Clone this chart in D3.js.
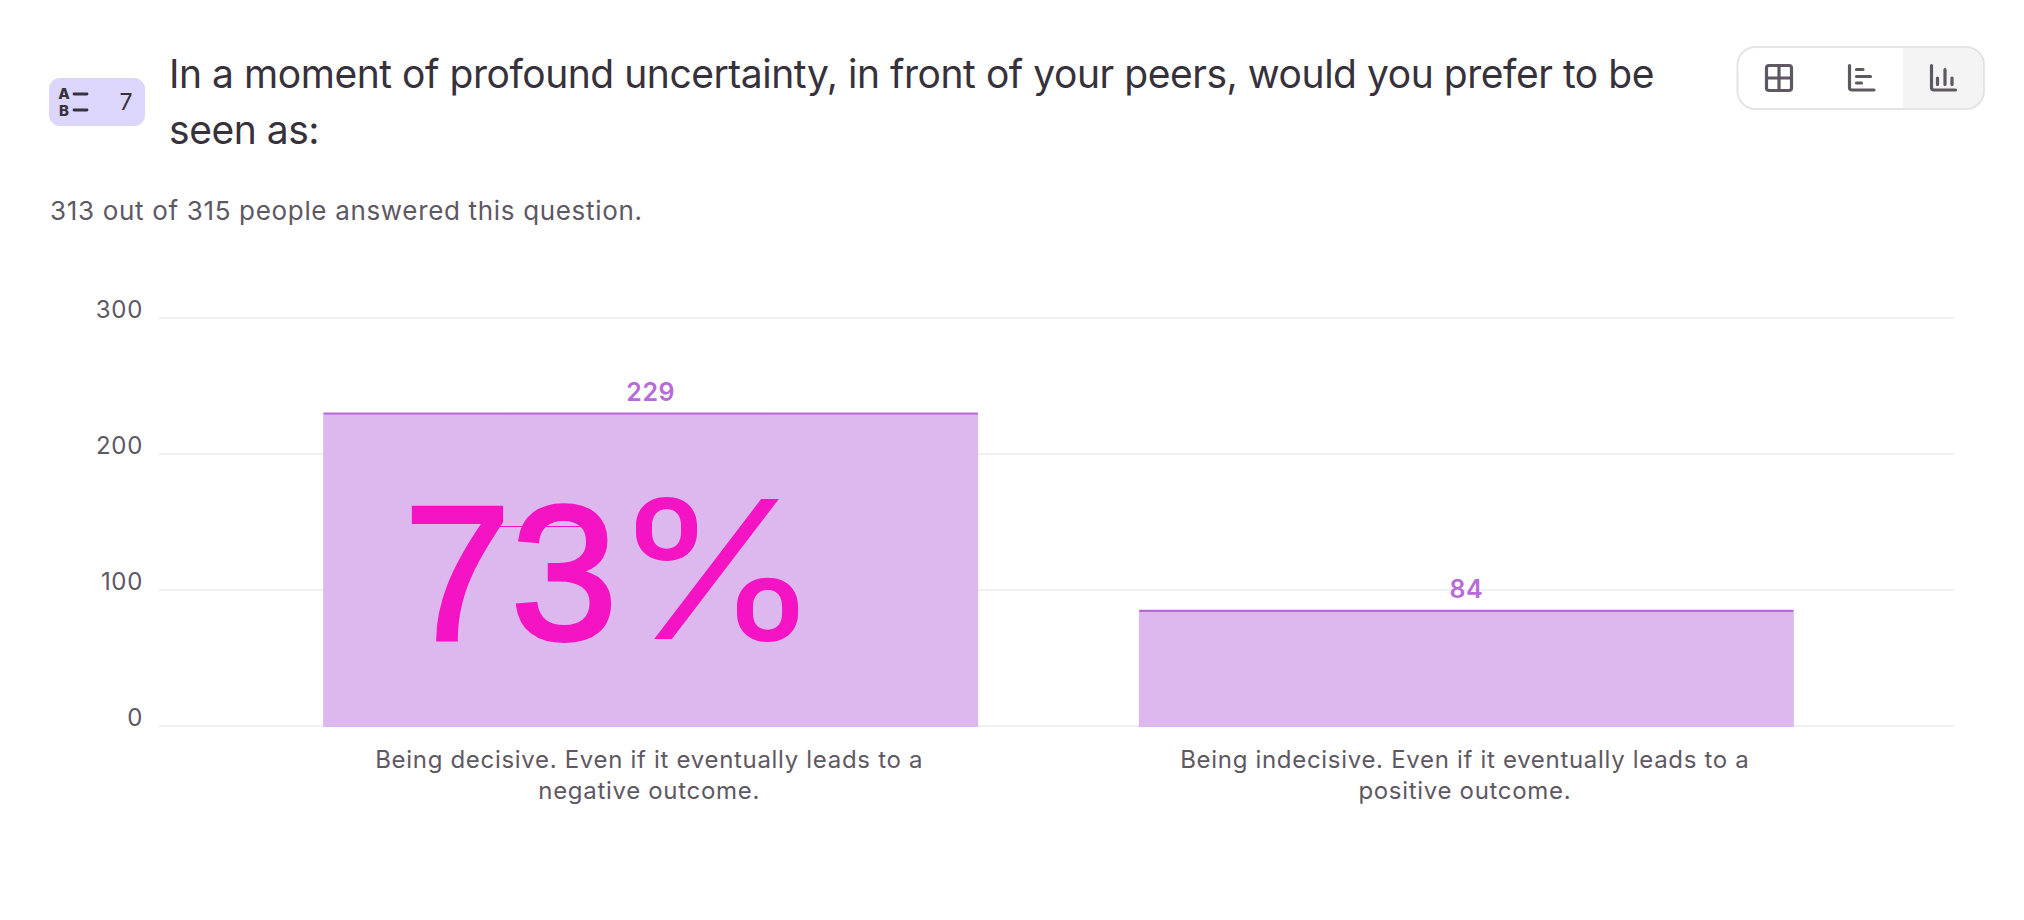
<!DOCTYPE html>
<html>
<head>
<meta charset="utf-8">
<script src="https://cdn.jsdelivr.net/npm/d3@7"></script>
<style>
    html, body { margin: 0; padding: 0; background: #fff; }
    svg { display: block; }
    text { font-family: Inter, "Noto Sans", sans-serif; }
    .tick line { stroke: #f0f0f0; stroke-width: 2; }
    .axis text { font-size: 24px; fill: #5e5863; letter-spacing: 0.69px; }
</style>
</head>
<body>
<script>
(function(){

    //chart data
    var categories = ["decisive", "indecisive"];
    var answers = [229, 84];
    var yTicks = [0, 100, 200, 300];
    var categoryLines = [
        ["Being decisive. Even if it eventually leads to a", "negative outcome."],
        ["Being indecisive. Even if it eventually leads to a", "positive outcome."]
    ];

    //page text
    var titleLines = [
        "In a moment of profound uncertainty, in front of your peers, would you prefer to be",
        "seen as:"
    ];
    var subtitle = "313 out of 315 people answered this question.";
    var questionNumber = "7";

    //frame dimensions
    var width = 2024,
        height = 920;

    var map = d3.select("body")
        .append("svg")
        .attr("width", width)
        .attr("height", height);

    var x = d3.scaleBand()
        .domain(categories)
        .range([160, 1957])
        .paddingInner(0.197)
        .paddingOuter(0.2);

    var y = d3.scaleLinear()
        .domain([0, 300])
        .range([726, 318]);

    setHeader();
    setToggle();
    setAxes();
    setBars();
    setShare();

    function setHeader(){
        //question badge
        map.append("rect")
            .attr("x", 49).attr("y", 78)
            .attr("width", 96).attr("height", 48)
            .attr("rx", 11)
            .attr("fill", "#ddd6fb");

        [["A", 99, 94], ["B", 116, 110]].forEach(function(d){
            map.append("text")
                .attr("x", 64).attr("y", d[1])
                .attr("text-anchor", "middle")
                .attr("font-size", 15)
                .attr("font-weight", 800)
                .attr("fill", "#37313c")
                .text(d[0]);
            map.append("line")
                .attr("x1", 74).attr("x2", 87)
                .attr("y1", d[2]).attr("y2", d[2])
                .attr("stroke", "#37313c")
                .attr("stroke-width", 2.8)
                .attr("stroke-linecap", "round");
        });

        map.append("text")
            .attr("x", 126).attr("y", 110)
            .attr("text-anchor", "middle")
            .attr("font-size", 23)
            .attr("fill", "#37313c")
            .text(questionNumber);

        //question title
        map.selectAll(".title")
            .data(titleLines)
            .enter()
            .append("text")
            .attr("class", "title")
            .attr("x", 169)
            .attr("y", function(d, i){ return 88 + i * 56; })
            .attr("font-size", 39)
            .attr("letter-spacing", -0.46)
            .attr("fill", "#37313c")
            .text(function(d){ return d; });

        map.append("text")
            .attr("x", 50).attr("y", 220)
            .attr("font-size", 26)
            .attr("letter-spacing", 0.67)
            .attr("fill", "#5e5863")
            .text(subtitle);
    };

    function setToggle(){
        var toggle = map.append("g");

        map.append("clipPath")
            .attr("id", "toggleClip")
            .append("rect")
            .attr("x", 1737).attr("y", 47)
            .attr("width", 247).attr("height", 62)
            .attr("rx", 18);

        toggle.append("rect")
            .attr("x", 1903).attr("y", 46)
            .attr("width", 82).attr("height", 64)
            .attr("clip-path", "url(#toggleClip)")
            .attr("fill", "#f4f4f4");

        toggle.append("rect")
            .attr("x", 1737.5).attr("y", 47)
            .attr("width", 246.5).attr("height", 62)
            .attr("rx", 18)
            .attr("fill", "none")
            .attr("stroke", "#e4e4e4")
            .attr("stroke-width", 2);

        var icons = toggle.append("g")
            .attr("fill", "none")
            .attr("stroke", "#5e5863")
            .attr("stroke-width", 3.2)
            .attr("stroke-linecap", "round")
            .attr("stroke-linejoin", "round");

        //table icon
        icons.append("rect")
            .attr("x", 1766.5).attr("y", 65.5)
            .attr("width", 25).attr("height", 25)
            .attr("rx", 2.5);
        icons.append("path").attr("d", "M1779 65.5V90.5M1766.5 78H1791.5");

        //horizontal bars icon
        icons.append("path").attr("d", "M1849.5 65.5V87.5Q1849.5 90 1852 90H1874");
        icons.append("path").attr("d", "M1856.5 69.5H1863M1856.5 76.5H1870.5M1856.5 83H1861.5");

        //vertical bars icon
        icons.append("path").attr("d", "M1931.5 65.5V87.5Q1931.5 90 1934 90H1955.5");
        icons.append("path").attr("d", "M1937.5 78V84.5M1945 69.5V84.5M1952 78V84.5");
    };

    function setAxes(){
        var yAxis = d3.axisLeft(y)
            .tickValues(yTicks)
            .tickSize(-1795)
            .tickPadding(16)
            .offset(0);

        map.append("g")
            .attr("class", "axis")
            .attr("transform", "translate(159,0)")
            .call(yAxis)
            .call(function(g){ g.select(".domain").remove(); })
            .selectAll("text")
            .attr("dy", 0);

        var xAxis = d3.axisBottom(x)
            .tickSize(0)
            .tickPadding(0);

        var labels = map.append("g")
            .attr("class", "axis")
            .attr("transform", "translate(0,726)")
            .call(xAxis)
            .call(function(g){ g.select(".domain").remove(); })
            .selectAll("text")
            .text(null);

        labels.selectAll("tspan")
            .data(function(d, i){ return categoryLines[i]; })
            .enter()
            .append("tspan")
            .attr("x", -1.5)
            .attr("y", function(d, i){ return 42 + i * 31; })
            .attr("dy", 0)
            .text(function(d){ return d; });
    };

    function setBars(){
        var barData = categories.map(function(c, i){ return {key: c, value: answers[i]}; });

        //light bar body
        map.selectAll(".bar")
            .data(barData)
            .enter()
            .append("rect")
            .attr("class", "bar")
            .attr("x", function(d){ return x(d.key); })
            .attr("y", function(d){ return y(d.value); })
            .attr("width", x.bandwidth())
            .attr("height", function(d){ return y(0) - y(d.value) + 1; })
            .attr("fill", "#ddb8ee");

        //darker cap on top of each bar
        map.selectAll(".barCap")
            .data(barData)
            .enter()
            .append("rect")
            .attr("class", "barCap")
            .attr("x", function(d){ return x(d.key); })
            .attr("y", function(d){ return y(d.value) - 2; })
            .attr("width", x.bandwidth())
            .attr("height", 2.2)
            .attr("rx", 1.1)
            .attr("fill", "#b86bd8");

        map.selectAll(".barValue")
            .data(barData)
            .enter()
            .append("text")
            .attr("class", "barValue")
            .attr("x", function(d){ return x(d.key) + x.bandwidth() / 2; })
            .attr("y", function(d){ return y(d.value) - 14; })
            .attr("text-anchor", "middle")
            .attr("font-size", 25)
            .attr("font-weight", 600)
            .attr("letter-spacing", 0.5)
            .attr("fill", "#b86bd8")
            .text(function(d){ return d.value; });
    };

    function setShare(){
        var share = d3.format(".0%")(answers[0] / d3.sum(answers));

        map.append("line")
            .attr("x1", 498).attr("x2", 593)
            .attr("y1", 526.5).attr("y2", 526.5)
            .attr("stroke", "#f414c4")
            .attr("stroke-width", 1);

        //digits and percent sign come closest in two different fonts
        map.append("text")
            .attr("x", 404).attr("y", 639)
            .style("font-family", "'Liberation Sans'")
            .attr("font-size", 192)
            .attr("fill", "#f414c4")
            .attr("stroke", "#f414c4")
            .attr("stroke-width", 4)
            .text(share.slice(0, -1));

        map.append("text")
            .attr("x", 612).attr("y", 639)
            .attr("font-size", 192)
            .attr("textLength", 210)
            .attr("lengthAdjust", "spacingAndGlyphs")
            .attr("fill", "#f414c4")
            .text("%");
    };

})();
</script>
</body>
</html>
